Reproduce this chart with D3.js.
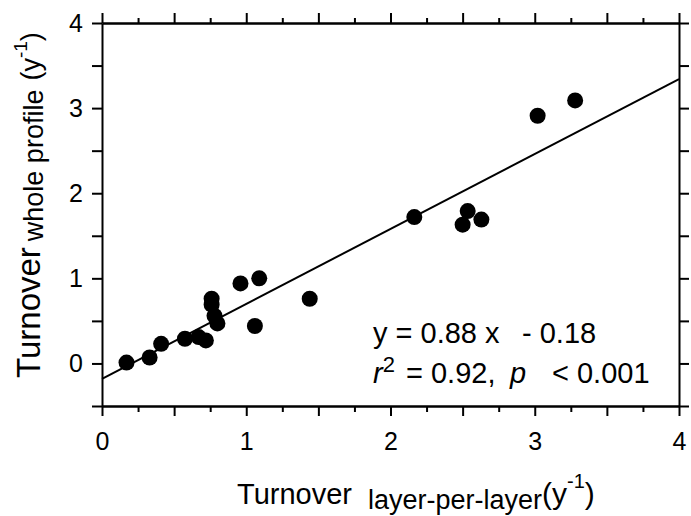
<!DOCTYPE html>
<html>
  <head>
    <meta charset="utf-8">
    <title></title>
    <style>
      body {
        margin: 0;
        background: #fff;
        font-family: "Liberation Sans", Arial, sans-serif;
      }
      svg {
        display: block;
      }
      .axis .domain,
      .axis line {
        stroke: #000;
        stroke-width: 2;
      }
      .axis text {
        font-family: "Liberation Sans", Arial, sans-serif;
        font-size: 25px;
        fill: #000;
      }
      .eq text {
        white-space: pre;
      }
    </style>
  </head>
  <body>
    <div id="chart"></div>
    <script src="https://cdn.jsdelivr.net/npm/d3@7"></script>
    <script>

      // turnover, layer-per-layer (x) vs whole profile (y)
      let xVals = [0.17, 0.33, 0.41, 0.575, 0.67, 0.72, 0.76, 0.76, 0.78, 0.80, 0.96, 1.09, 1.06, 1.44, 2.165, 2.535, 2.50, 2.63, 3.02, 3.28];
      let yVals = [0.01, 0.07, 0.23, 0.29, 0.31, 0.27, 0.76, 0.69, 0.56, 0.47, 0.94, 1.00, 0.44, 0.76, 1.72, 1.79, 1.63, 1.69, 2.91, 3.09];

      let slope = 0.88;
      let intercept = -0.18;

      let xTicks = [0, 1, 2, 3, 4];
      let yTicks = [0, 1, 2, 3, 4];

      let points = xVals.map((x, i) => ({x: x, y: yVals[i]}));

      let W = 691, H = 516;
      let margin = {top: 23, right: 12, bottom: 110, left: 102};

      let svg = d3.select('#chart').append('svg')
        .attr('width', W)
        .attr('height', H);

      let x = d3.scaleLinear().domain([0, 4]).range([margin.left, W - margin.right]);
      let y = d3.scaleLinear().domain([-0.5, 4]).range([H - margin.bottom, margin.top]);

      let halfX = d3.range(0, 4.01, 0.5);
      let quarterX = d3.range(0.25, 4, 0.5);
      let halfY = d3.range(-0.5, 4.01, 0.5);

      let fmt = d => xTicks.includes(d) ? d : '';
      let fmtY = d => yTicks.includes(d) ? d : '';

      // bottom
      svg.append('g').attr('class', 'axis')
        .attr('transform', 'translate(0,' + y(-0.5) + ')')
        .call(d3.axisBottom(x).tickValues(quarterX).tickSize(6).tickSizeOuter(0).tickFormat(''));
      svg.append('g').attr('class', 'axis')
        .attr('transform', 'translate(0,' + y(-0.5) + ')')
        .call(d3.axisBottom(x).tickValues(halfX).tickSize(10).tickSizeOuter(0).tickPadding(16).tickFormat(fmt));

      // top
      svg.append('g').attr('class', 'axis')
        .attr('transform', 'translate(0,' + y(4) + ')')
        .call(d3.axisTop(x).tickValues(quarterX).tickSize(5).tickSizeOuter(0).tickFormat(''));
      svg.append('g').attr('class', 'axis')
        .attr('transform', 'translate(0,' + y(4) + ')')
        .call(d3.axisTop(x).tickValues(halfX).tickSize(10).tickSizeOuter(0).tickFormat(''));

      // left
      svg.append('g').attr('class', 'axis')
        .attr('transform', 'translate(' + x(0) + ',0)')
        .call(d3.axisLeft(y).tickValues(halfY).tickSize(10).tickSizeOuter(0).tickPadding(9).tickFormat(fmtY));

      // right
      svg.append('g').attr('class', 'axis')
        .attr('transform', 'translate(' + x(4) + ',0)')
        .call(d3.axisRight(y).tickValues(halfY).tickSize(10).tickSizeOuter(0).tickFormat(''));

      // regression line
      svg.append('line')
        .attr('x1', x(0)).attr('y1', y(intercept))
        .attr('x2', x(4)).attr('y2', y(slope * 4 + intercept))
        .attr('stroke', '#000')
        .attr('stroke-width', 2);

      svg.append('g').selectAll('circle')
        .data(points)
        .enter().append('circle')
        .attr('cx', d => x(d.x))
        .attr('cy', d => y(d.y))
        .attr('r', 8)
        .attr('fill', '#000');

      // equation
      let eq = svg.append('g')
        .attr('class', 'eq')
        .attr('font-family', '"Liberation Sans", Arial, sans-serif')
        .attr('font-size', 29);

      let l1 = eq.append('text').attr('y', 343);
      l1.append('tspan').attr('x', 373).text('y = 0.88 x');
      l1.append('tspan').attr('x', 522).text('- 0.18');

      let l2 = eq.append('text').attr('y', 383);
      l2.append('tspan').attr('x', 373).attr('font-style', 'italic').text('r');
      l2.append('tspan').attr('font-size', 22).attr('dy', -11).text('2');
      l2.append('tspan').attr('x', 406).attr('dy', 11).text('= 0.92,');
      l2.append('tspan').attr('x', 510).attr('font-style', 'italic').text('p');
      l2.append('tspan').attr('x', 552).text('< 0.001');

      // x title
      let xt = svg.append('text')
        .attr('x', 237).attr('y', 504)
        .attr('font-family', '"Liberation Sans", Arial, sans-serif')
        .attr('font-size', 29);
      xt.append('tspan').text('Turnover');
      xt.append('tspan').attr('font-size', 27).attr('dx', 16).attr('dy', 5).text('layer-per-layer');
      xt.append('tspan').attr('font-size', 30).attr('dy', -5).text('(y');
      xt.append('tspan').attr('font-size', 20).attr('dy', -16).text('-1');
      xt.append('tspan').attr('font-size', 30).attr('dy', 16).text(')');

      // y title
      let yt = svg.append('text')
        .attr('transform', 'translate(40,378) rotate(-90)')
        .attr('font-family', '"Liberation Sans", Arial, sans-serif')
        .attr('font-size', 33);
      yt.append('tspan').text('Turnover');
      yt.append('tspan').attr('font-size', 27).attr('dx', 6).attr('dy', 3).text('whole profile');
      yt.append('tspan').attr('font-size', 27).attr('dx', 9).attr('dy', -3).text('(y');
      yt.append('tspan').attr('font-size', 19).attr('dy', -13).text('-1');
      yt.append('tspan').attr('font-size', 27).attr('dy', 13).text(')');

    </script>
  </body>
</html>
